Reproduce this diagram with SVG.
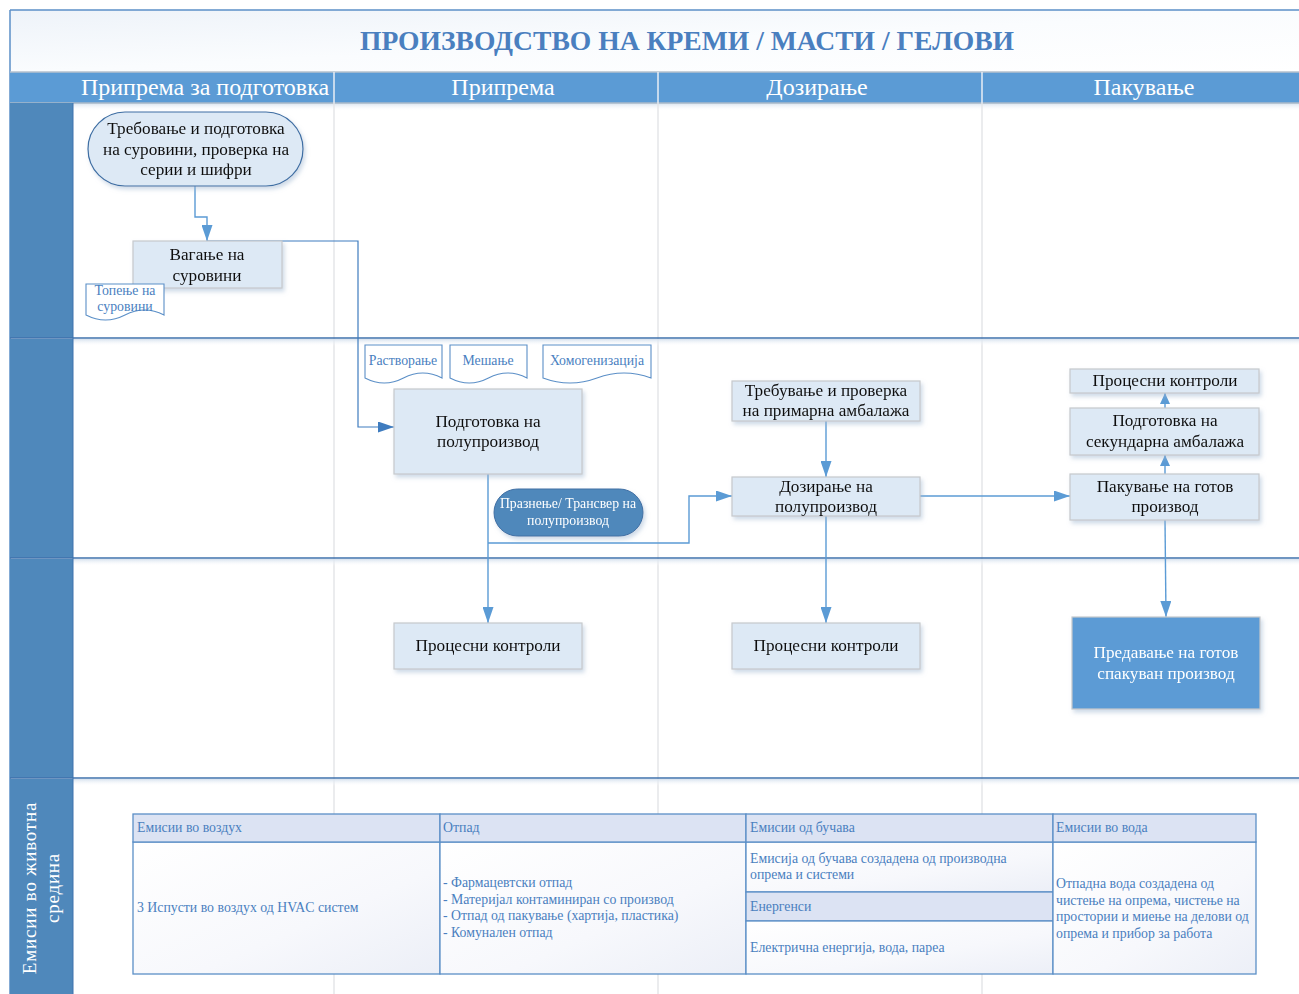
<svg xmlns="http://www.w3.org/2000/svg" width="1299" height="994" viewBox="0 0 1299 994">
<style>
text{font-family:"Liberation Serif","Times New Roman",serif}
.hdr{fill:#fff;font-size:24px;text-anchor:middle}
.box{fill:#dde9f5;stroke:#c6c9cc;stroke-width:1.2}
.bt{fill:#111;font-size:17.2px;text-anchor:middle}
.doc{fill:#fff;stroke:#5b8fc7;stroke-width:1.1}
.dt{fill:#4a7fbf;font-size:13.8px;text-anchor:middle}
.con{fill:none;stroke:#5b9bd5;stroke-width:1.4}
.con2{fill:none;stroke:#3f7cbf;stroke-width:1.2}
.tb{fill:#4a7fbf;font-size:13.8px}
.cell{fill:url(#cg);stroke:#5b8fc7;stroke-width:1.3}
.th{fill:#dce3f3;stroke:#5b8fc7;stroke-width:1.3}
.lane{fill:#4f88bb}
.sep{stroke:#3f72ad;stroke-width:1.5}
.vsep{stroke:#e4e6e8;stroke-width:1.5}
</style>
<defs>
<marker id="ah" viewBox="0 0 10 10" refX="10" refY="5" markerWidth="16" markerHeight="11" markerUnits="userSpaceOnUse" orient="auto" preserveAspectRatio="none"><path d="M0,0 L10,5 L0,10 z" fill="#5b9bd5"/></marker>
<marker id="ahs" viewBox="0 0 10 10" refX="10" refY="5" markerWidth="11" markerHeight="10" markerUnits="userSpaceOnUse" orient="auto" preserveAspectRatio="none"><path d="M0,0 L10,5 L0,10 z" fill="#5b9bd5"/></marker>
<marker id="ah2" viewBox="0 0 10 10" refX="10" refY="5" markerWidth="16" markerHeight="11" markerUnits="userSpaceOnUse" orient="auto" preserveAspectRatio="none"><path d="M0,0 L10,5 L0,10 z" fill="#3f7cbf"/></marker>
<linearGradient id="tg" x1="0" y1="0" x2="1" y2="1"><stop offset="0" stop-color="#eef3f9"/><stop offset="0.5" stop-color="#fafcfe"/><stop offset="1" stop-color="#ffffff"/></linearGradient>
<linearGradient id="cg" x1="0" y1="0" x2="1" y2="1"><stop offset="0" stop-color="#ffffff"/><stop offset="0.6" stop-color="#f7f8fc"/><stop offset="1" stop-color="#eceff7"/></linearGradient>
<linearGradient id="sh" x1="0" y1="0" x2="0" y2="1"><stop offset="0" stop-color="#d6e1ee"/><stop offset="1" stop-color="#ffffff" stop-opacity="0"/></linearGradient>
<filter id="ds" x="-10%" y="-10%" width="130%" height="140%"><feDropShadow dx="2" dy="3" stdDeviation="2" flood-color="#9fb6d0" flood-opacity="0.5"/></filter>
</defs>

<!-- frame / title -->
<g id="frame">
<rect x="0" y="0" width="1299" height="994" fill="#fff"/>
<rect x="10" y="10" width="1300" height="62" fill="url(#tg)"/>
<line x1="10" y1="10" x2="1299" y2="10" stroke="#5b8fc7" stroke-width="1.5"/>
<line x1="10" y1="10" x2="10" y2="994" stroke="#5b8fc7" stroke-width="1.5"/>
<text x="687" y="50" font-size="27.6" font-weight="bold" fill="#4a7fbf" text-anchor="middle">ПРОИЗВОДСТВО НА КРЕМИ / МАСТИ / ГЕЛОВИ</text>
</g>

<!-- header row -->
<g id="header">
<rect x="10" y="72" width="1290" height="31" fill="#5b9bd5"/>
<rect x="10" y="103" width="1290" height="8" fill="url(#sh)"/>
<line x1="10" y1="72" x2="1299" y2="72" stroke="#b4c0cc" stroke-width="1.5"/>
<line x1="10" y1="103" x2="1299" y2="103" stroke="#a9b9c9" stroke-width="1.5"/>
<line x1="334" y1="72" x2="334" y2="103" stroke="#e8eef5" stroke-width="1.5"/>
<line x1="658" y1="72" x2="658" y2="103" stroke="#e8eef5" stroke-width="1.5"/>
<line x1="982" y1="72" x2="982" y2="103" stroke="#e8eef5" stroke-width="1.5"/>
<text class="hdr" x="205" y="95">Припрема за подготовка</text>
<text class="hdr" x="503" y="95">Припрема</text>
<text class="hdr" x="817" y="95">Дозирање</text>
<text class="hdr" x="1144" y="95">Пакување</text>
</g>

<!-- lanes -->
<g id="lanes">
<line class="vsep" x1="334" y1="103" x2="334" y2="994"/>
<line class="vsep" x1="658" y1="103" x2="658" y2="994"/>
<line class="vsep" x1="982" y1="103" x2="982" y2="994"/>
<rect class="lane" x="10" y="103" width="63" height="235"/>
<rect class="lane" x="10" y="339" width="63" height="219"/>
<rect class="lane" x="10" y="559" width="63" height="219"/>
<rect class="lane" x="10" y="779" width="63" height="215"/>
<rect x="73" y="339" width="1230" height="7" fill="url(#sh)"/>
<rect x="73" y="559" width="1230" height="7" fill="url(#sh)"/>
<rect x="73" y="779" width="1230" height="7" fill="url(#sh)"/>
<line class="sep" x1="10" y1="338" x2="1299" y2="338"/>
<line class="sep" x1="10" y1="558" x2="1299" y2="558"/>
<line class="sep" x1="10" y1="778" x2="1299" y2="778"/>
<line x1="73" y1="103" x2="73" y2="994" stroke="#3f72ad" stroke-width="1"/>
<text transform="translate(36,888) rotate(-90)" font-size="19" fill="#fff" text-anchor="middle" letter-spacing="0.8">Емисии во животна</text>
<text transform="translate(59,888) rotate(-90)" font-size="19" fill="#fff" text-anchor="middle" letter-spacing="0.8">средина</text>
</g>

<!-- connectors -->
<g id="connectors">
<path class="con" d="M195,186 V217 H207 V241" marker-end="url(#ah)"/>
<path class="con2" d="M207,241 H358 V427 H394" marker-end="url(#ah2)"/>
<path class="con" d="M488,474 V623" marker-end="url(#ah)"/>
<path class="con" d="M488,543 H689 V496 H732" marker-end="url(#ah)"/>
<path class="con" d="M826,421 V477" marker-end="url(#ah)"/>
<path class="con" d="M920,496 H1070" marker-end="url(#ah)"/>
<path class="con" d="M826,516 V623" marker-end="url(#ah)"/>
<path class="con" d="M1165,520 L1166,617" marker-end="url(#ah)"/>
<path class="con" d="M1165,474 V455" marker-end="url(#ahs)"/>
<path class="con" d="M1165,408 V393" marker-end="url(#ahs)"/>
</g>

<!-- nodes -->
<g id="n_trebovanje" filter="url(#ds)">
<rect x="88" y="112" width="215" height="74" rx="37" ry="37" fill="#dde9f5" stroke="#3e6ea3" stroke-width="1.2"/>
<text class="bt" x="196" y="134">Требовање и подготовка</text>
<text class="bt" x="196" y="155">на суровини, проверка на</text>
<text class="bt" x="196" y="175">серии и шифри</text>
</g>
<g id="n_vaganje" filter="url(#ds)">
<rect class="box" x="133" y="241" width="149" height="47"/>
<text class="bt" x="207" y="260">Вагање на</text>
<text class="bt" x="207" y="281">суровини</text>
</g>
<g id="n_topenje">
<path class="doc" d="M86,284 H164 V315 Q144.5,305 125,315 Q105.5,325 86,315 Z"/>
<text class="dt" x="125" y="295">Топење на</text>
<text class="dt" x="125" y="311">суровини</text>
</g>
<g id="n_rastvoranje">
<path class="doc" d="M365,345 H442 V378 Q422.75,368 403.5,378 Q384.25,388 365,378 Z"/>
<text class="dt" x="403" y="365">Растворање</text>
</g>
<g id="n_meshanje">
<path class="doc" d="M450,345 H527 V378 Q507.75,368 488.5,378 Q469.25,388 450,378 Z"/>
<text class="dt" x="488" y="365">Мешање</text>
</g>
<g id="n_homogenizacija">
<path class="doc" d="M543,345 H651 V378 Q624,368 597,378 Q570,388 543,378 Z"/>
<text class="dt" x="597" y="365">Хомогенизација</text>
</g>
<g id="n_podgotovka" filter="url(#ds)">
<rect class="box" x="394" y="389" width="188" height="85"/>
<text class="bt" x="488" y="427">Подготовка на</text>
<text class="bt" x="488" y="447">полупроизвод</text>
</g>
<g id="n_praznenje" filter="url(#ds)">
<rect x="494" y="489" width="149" height="47" rx="23.5" ry="23.5" fill="#4f88bb" stroke="#3e6ea3" stroke-width="1"/>
<text x="568" y="508" font-size="13.8" fill="#fff" text-anchor="middle">Празнење/ Трансвер на</text>
<text x="568" y="525" font-size="13.8" fill="#fff" text-anchor="middle">полупроизвод</text>
</g>
<g id="n_trebuvanje" filter="url(#ds)">
<rect class="box" x="732" y="381" width="188" height="40"/>
<text class="bt" x="826" y="396">Требување и проверка</text>
<text class="bt" x="826" y="416">на примарна амбалажа</text>
</g>
<g id="n_doziranje" filter="url(#ds)">
<rect class="box" x="732" y="477" width="188" height="39"/>
<text class="bt" x="826" y="492">Дозирање на</text>
<text class="bt" x="826" y="512">полупроизвод</text>
</g>
<g id="n_pk_top" filter="url(#ds)">
<rect class="box" x="1070" y="369" width="189" height="24"/>
<text class="bt" x="1165" y="386">Процесни контроли</text>
</g>
<g id="n_sekundarna" filter="url(#ds)">
<rect class="box" x="1070" y="408" width="189" height="47"/>
<text class="bt" x="1165" y="426">Подготовка на</text>
<text class="bt" x="1165" y="447">секундарна амбалажа</text>
</g>
<g id="n_pakuvanje" filter="url(#ds)">
<rect class="box" x="1070" y="474" width="189" height="46"/>
<text class="bt" x="1165" y="492">Пакување на готов</text>
<text class="bt" x="1165" y="512">производ</text>
</g>
<g id="n_pk1" filter="url(#ds)">
<rect class="box" x="394" y="623" width="188" height="46"/>
<text class="bt" x="488" y="651">Процесни контроли</text>
</g>
<g id="n_pk2" filter="url(#ds)">
<rect class="box" x="732" y="623" width="188" height="46"/>
<text class="bt" x="826" y="651">Процесни контроли</text>
</g>
<g id="n_predavanje" filter="url(#ds)">
<rect x="1072" y="617" width="188" height="92" fill="#5b9bd5" stroke="#c6c9cc" stroke-width="1.2"/>
<text x="1166" y="658" font-size="17.2" fill="#fff" text-anchor="middle">Предавање на готов</text>
<text x="1166" y="679" font-size="17.2" fill="#fff" text-anchor="middle">спакуван производ</text>
</g>

<!-- emissions table -->
<g id="table">
<rect class="cell" x="133" y="842" width="307" height="132"/>
<rect class="cell" x="440" y="842" width="306" height="132"/>
<rect class="cell" x="746" y="842" width="307" height="50"/>
<rect class="th" x="746" y="892" width="307" height="29"/>
<rect class="cell" x="746" y="921" width="307" height="53"/>
<rect class="cell" x="1053" y="842" width="203" height="132"/>
<rect class="th" x="133" y="814" width="307" height="28"/>
<rect class="th" x="440" y="814" width="306" height="28"/>
<rect class="th" x="746" y="814" width="307" height="28"/>
<rect class="th" x="1053" y="814" width="203" height="28"/>
<text class="tb" x="137" y="832">Емисии во воздух</text>
<text class="tb" x="443" y="832">Отпад</text>
<text class="tb" x="750" y="832">Емисии од бучава</text>
<text class="tb" x="1056" y="832">Емисии во вода</text>
<text class="tb" x="137" y="912">3 Испусти во воздух од HVAC систем</text>
<text class="tb" x="443" y="887">- Фармацевтски отпад</text>
<text class="tb" x="443" y="904">- Материјал контаминиран со производ</text>
<text class="tb" x="443" y="920">- Отпад од пакување (хартија, пластика)</text>
<text class="tb" x="443" y="937">- Комунален отпад</text>
<text class="tb" x="750" y="863">Емисија од бучава создадена од производна</text>
<text class="tb" x="750" y="879">опрема и системи</text>
<text class="tb" x="750" y="911">Енергенси</text>
<text class="tb" x="750" y="952">Електрична енергија, вода, пареа</text>
<text class="tb" x="1056" y="888">Отпадна вода создадена од</text>
<text class="tb" x="1056" y="905">чистење на опрема, чистење на</text>
<text class="tb" x="1056" y="921">простории и миење на делови од</text>
<text class="tb" x="1056" y="938">опрема и прибор за работа</text>
</g>
</svg>
